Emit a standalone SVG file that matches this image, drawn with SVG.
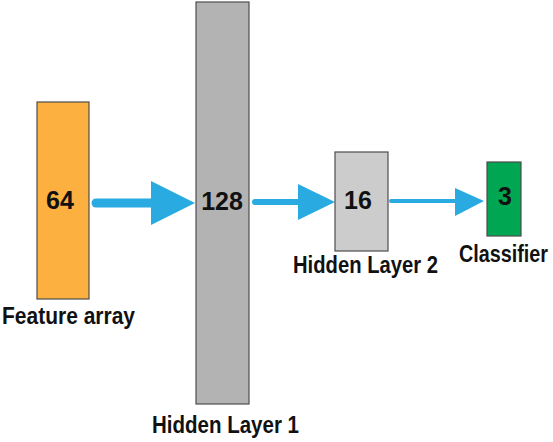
<svg xmlns="http://www.w3.org/2000/svg" width="553" height="442" viewBox="0 0 553 442">
<style>
.box{stroke:#4d4d4d;stroke-width:1.2}
.num{font-family:"Liberation Sans",Arial,sans-serif;font-weight:bold;font-size:25px;fill:#111;text-anchor:middle}
.lbl{font-family:"Liberation Sans",Arial,sans-serif;font-weight:bold;font-size:23px;fill:#111}
.ln{stroke:#29abe2;stroke-linecap:round;fill:none}
.hd{fill:#29abe2}
</style>
<rect width="553" height="442" fill="#fff"/>
<g id="feature">
<rect class="box" x="37" y="102" width="52" height="197" fill="#fbb040"/>
<text class="num" x="60" y="209">64</text>
<text class="lbl" x="2" y="324" textLength="133" lengthAdjust="spacingAndGlyphs">Feature array</text>
</g>
<g id="hidden1">
<rect class="box" x="196" y="2" width="53" height="402" fill="#b3b3b3"/>
<text class="num" x="222" y="210">128</text>
<text class="lbl" x="152" y="433" textLength="147" lengthAdjust="spacingAndGlyphs">Hidden Layer 1</text>
</g>
<g id="hidden2">
<rect class="box" x="335" y="152" width="53" height="99" fill="#cccccc"/>
<text class="num" x="358" y="209">16</text>
<text class="lbl" x="293" y="273" textLength="145" lengthAdjust="spacingAndGlyphs">Hidden Layer 2</text>
</g>
<g id="classifier">
<rect class="box" x="487" y="162" width="34" height="74" fill="#00a651"/>
<text class="num" x="505" y="205">3</text>
<text class="lbl" transform="translate(459,262) scale(0.86,1)" x="0" y="0">Classifier</text>
</g>
<g id="connectors">
<line class="ln" x1="96" y1="203" x2="155" y2="203" stroke-width="9"/>
<polygon class="hd" points="151,181 195,203 151,225"/>
<line class="ln" x1="255" y1="202" x2="300" y2="202" stroke-width="6"/>
<polygon class="hd" points="298,184 335,202 298,220"/>
<line class="ln" x1="391" y1="201" x2="457" y2="201" stroke-width="4"/>
<polygon class="hd" points="455,188 484,201 455,216"/>
</g>
</svg>
